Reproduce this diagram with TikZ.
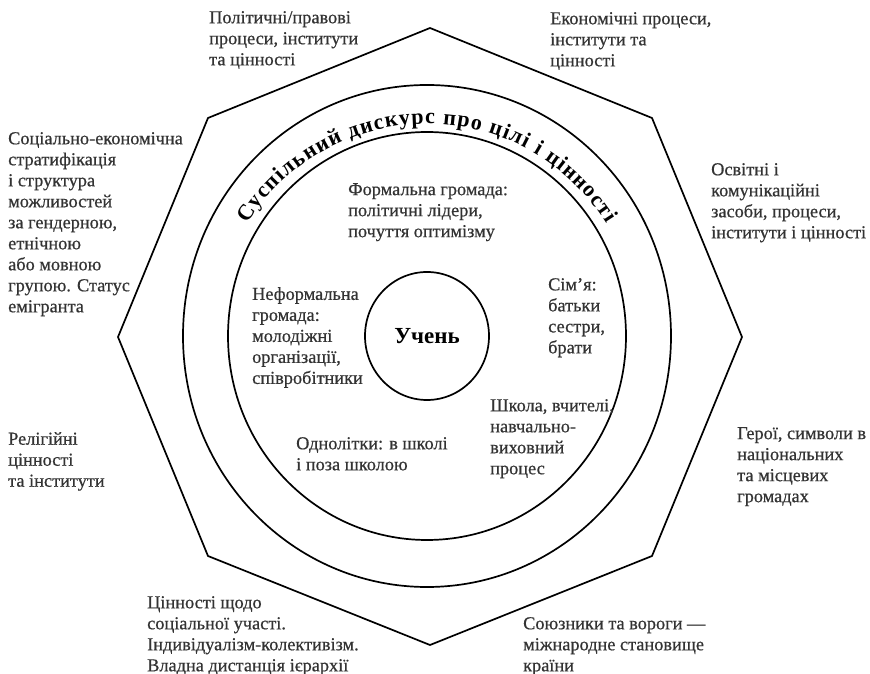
\documentclass[tikz,border=0pt]{standalone}
\usepackage{fontspec}
\setmainfont{Liberation Serif}
\newfontfamily\bodyfont[BoldFont=Liberation Serif, BoldFeatures={FakeBold=0.6}]{Liberation Serif}
\usetikzlibrary{decorations.text}
\begin{document}
\begin{tikzpicture}[x=1pt,y=1pt,
  ring/.style={draw=black, line width=1.7pt},
  lbl/.style={anchor=north west, inner sep=0pt, align=left, text=black!80,
    font=\bodyfont\bfseries\fontsize{18.3}{21}\selectfont}]
\useasboundingbox (0,0) rectangle (870,674);
\coordinate (c) at (427,338);
% octagon
\draw[ring, line join=miter] (430,646) -- (652,556) -- (742,337) -- (652,118)
  -- (430,29) -- (208,118) -- (118,337) -- (208,556) -- cycle;
% circles
\draw[ring] (c) ellipse [x radius=244, y radius=251];
\draw[ring] (c) ellipse [x radius=199, y radius=204];
\draw[ring] (c) ellipse [x radius=62, y radius=64];
\node[font=\fontsize{23}{23}\selectfont\bfseries, inner sep=0pt] (uchen) at (c) {Учень};
% curved text
\path[decorate, decoration={text along path,
   text={|\fontsize{22}{22}\selectfont\bfseries|Суспільний дискурс про цілі і цінності},
   text align=fit to path}]
  (c) ++(148:212) arc[start angle=148, end angle=32, radius=212];
% labels
\node[lbl] (pol) at (209,663) {Політичні/правові\\процеси, інститути\\та цінності};
\node[lbl] (eko) at (550,662) {Економічні процеси,\\інститути та\\цінності};
\node[lbl] (soc) at (8,542) {Соціально-економічна\\стратифікація\\і структура\\можливостей\\за гендерною,\\етнічною\\або мовною\\групою. Статус\\емігранта};
\node[lbl] (osv) at (711,511) {Освітні і\\комунікаційні\\засоби, процеси,\\інститути і цінності};
\node[lbl] (form) at (348,491) {Формальна громада:\\політичні лідери,\\почуття оптимізму};
\node[lbl] (sim) at (548,396) {Сім’я:\\батьки\\сестри,\\брати};
\node[lbl] (neform) at (252,387) {Неформальна\\громада:\\молодіжні\\організації,\\співробітники};
\node[lbl] (shk) at (490,275) {Школа, вчителі,\\навчально-\\виховний\\процес};
\node[lbl] (odn) at (296,237) {Однолітки: в школі\\і поза школою};
\node[lbl] (rel) at (8,242) {Релігійні\\цінності\\та інститути};
\node[lbl] (her) at (737,247) {Герої, символи в\\національних\\та місцевих\\громадах};
\node[lbl] (cin) at (147,78) {Цінності щодо\\соціальної участі.\\Індивідуалізм-колективізм.\\Владна дистанція ієрархії};
\node[lbl] (soyuz) at (523,57) {Союзники та вороги —\\міжнародне становище\\країни};
\end{tikzpicture}
\end{document}
